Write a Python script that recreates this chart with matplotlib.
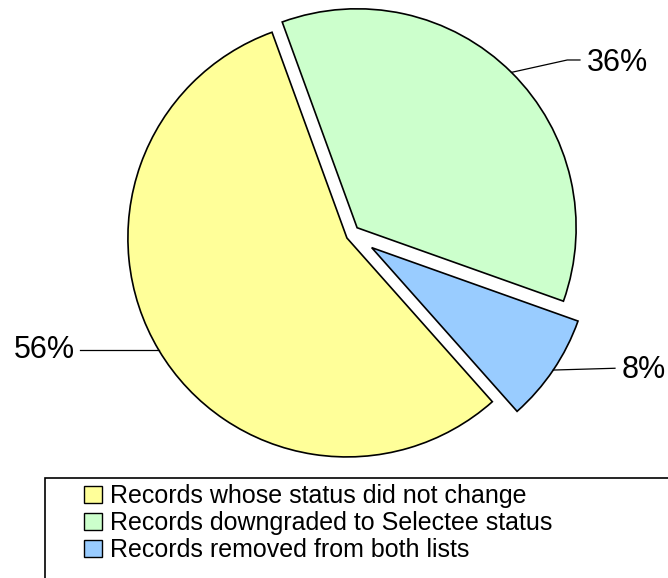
import matplotlib.pyplot as plt
from matplotlib.patches import Rectangle
import numpy as np

plt.rcParams['font.family'] = ['Liberation Sans', 'DejaVu Sans']

# Datos del grafico
categorias = ['Records whose status did not change',
              'Records downgraded to Selectee status',
              'Records removed from both lists']
porcentajes = [56, 36, 8]
colores = ['#FFFF99', '#CCFFCC', '#99CCFF']
separacion = [0.0, 0.066, 0.12]

fig = plt.figure(figsize=(6.68, 5.78), dpi=100)
ax = fig.add_axes([0, 0, 1, 1])

cunas, _ = ax.pie(porcentajes, colors=colores, explode=separacion,
                  startangle=-48.4, counterclock=False, radius=1.0,
                  wedgeprops=dict(edgecolor='black', linewidth=1.2))

# la porcion azul queda desplazada un poco mas hacia la derecha
cunas[2].set_center((0.113, -0.044))

ax.set_aspect('auto')
ax.set_xlim(-1.584, 1.466)
ax.set_ylim(-1.553, 1.087)
ax.axis('off')

# etiquetas de porcentaje con lineas guia
def punto_borde(cuna):
    ang = np.deg2rad((cuna.theta1 + cuna.theta2) / 2)
    cx, cy = cuna.center
    return cx + cuna.r * np.cos(ang), cy + cuna.r * np.sin(ang)

tam = 22
# 56%
x0, y0 = punto_borde(cunas[0])
ax.plot([x0, -1.219], [y0, y0], color='black', lw=0.9)
ax.text(-1.242, y0, f'{porcentajes[0]}%', ha='right', va='center', fontsize=tam)
# 36%
x0, y0 = punto_borde(cunas[1])
ax.plot([x0, 1.006, 1.064], [y0, 0.813, 0.813], color='black', lw=0.9)
ax.text(1.094, 0.800, f'{porcentajes[1]}%', ha='left', va='center', fontsize=tam)
# 8%
x0, y0 = punto_borde(cunas[2])
ax.plot([x0, 1.224], [y0, -0.595], color='black', lw=0.9)
ax.text(1.254, -0.603, f'{porcentajes[2]}%', ha='left', va='center', fontsize=tam)

# caja de la leyenda
W, H = 668, 578
fig.patches.append(Rectangle((45 / W, -0.1), (720 - 45) / W, (H - 478) / H + 0.1,
                             transform=fig.transFigure, facecolor='none',
                             edgecolor='black', linewidth=1.2))

leg = fig.legend(cunas, categorias, loc='upper left',
                 bbox_to_anchor=(84 / W, 1 - 484 / H),
                 frameon=False, fontsize=18, handlelength=0.7, handleheight=0.7,
                 handletextpad=0.35, labelspacing=0.12, borderpad=0.0,
                 borderaxespad=0.0)
for h in leg.legend_handles:
    h.set_linewidth(1.0)

fig.savefig('out.png', dpi=100)
